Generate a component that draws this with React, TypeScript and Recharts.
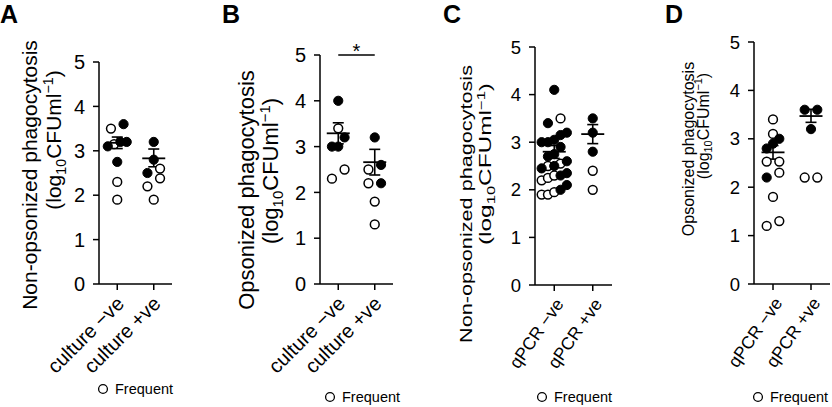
import React from 'react';
import { ScatterChart, Scatter, XAxis, YAxis, ErrorBar, ReferenceLine, Label } from 'recharts';

const FONT = '"Liberation Sans", Arial, Helvetica, sans-serif';

// ---------- categories & ticks ----------
const cultureCategories = ['culture \u2212ve', 'culture +ve'];
const qpcrCategories = ['qPCR \u2212ve', 'qPCR +ve'];
const yTicks = [0, 1, 2, 3, 4, 5];
const legendLabel = 'Frequent';

// ---------- Panel A: non-opsonized, culture ----------
const aNegFrequent = [3.5, 3.15, 2.3, 1.9];
const aNegOther = [3.6, 3.2, 3.2, 3.1, 2.75];
const aPosFrequent = [2.6, 2.38, 2.2, 1.9];
const aPosOther = [3.2, 2.8, 2.5];
const aMean = [3.18, 2.83];
const aSemLow = [3.05, 2.64];
const aSemHigh = [3.31, 3.04];

// ---------- Panel B: opsonized, culture ----------
const bNegFrequent = [3.4, 2.5, 2.3];
const bNegOther = [4.0, 3.2, 3.0, 3.0];
const bPosFrequent = [2.5, 2.2, 1.8, 1.3];
const bPosOther = [3.2, 2.6, 2.2];
const bMean = [3.29, 2.66];
const bSemLow = [3.06, 2.38];
const bSemHigh = [3.52, 2.94];

// ---------- Panel C: non-opsonized, qPCR ----------
const cNegFrequent = [3.5, 2.55, 2.5, 2.3, 2.25, 2.2, 1.95, 1.9, 1.9];
const cNegOther = [4.1, 3.4, 3.2, 3.15, 3.05, 3.0, 3.0, 2.9, 2.75, 2.7, 2.6, 2.5, 2.45, 2.35, 2.3, 2.1, 2.0];
const cPosFrequent = [2.4, 2.0];
const cPosOther = [3.5, 3.2, 2.8];
const cMean = [2.8, 3.17];
const cSemLow = [2.66, 2.97];
const cSemHigh = [2.93, 3.37];

// ---------- Panel D: opsonized, qPCR ----------
const dNegFrequent = [3.4, 3.1, 2.53, 2.53, 2.3, 1.8, 1.3, 1.2];
const dNegOther = [3.0, 2.9, 2.8, 2.2];
const dPosFrequent = [2.2, 2.2];
const dPosOther = [3.6, 3.6, 3.2];
const dMean = [2.72, 3.47];
const dSemLow = [2.58, 3.34];
const dSemHigh = [2.86, 3.61];

// ---------- helpers ----------
type Pt = { x: number; y: number };

// Prism-like scatter-dot layout: group close values in rows, spread each row around the category centre
function swarm(frequent: number[], other: number[], cat: number, pxPerX: number, pxPerY: number) {
  const all = [
    ...frequent.map((v) => ({ v, f: true })),
    ...other.map((v) => ({ v, f: false })),
  ].sort((a, b) => a.v - b.v || (a.f === b.f ? 0 : a.f ? -1 : 1));
  const binPx = 10.5;
  const slot = 6.3;
  const rows: { v: number; f: boolean }[][] = [];
  let cur: { v: number; f: boolean }[] = [];
  let start = 0;
  for (const p of all) {
    if (cur.length === 0) {
      cur = [p];
      start = p.v;
    } else if ((p.v - start) * pxPerY < binPx) {
      cur.push(p);
    } else {
      rows.push(cur);
      cur = [p];
      start = p.v;
    }
  }
  if (cur.length) rows.push(cur);
  const freq: Pt[] = [];
  const oth: Pt[] = [];
  rows.forEach((row) => {
    const n = row.length;
    const step = n === 2 ? slot * 2 : slot;
    row.forEach((p, i) => {
      const off = ((i - (n - 1) / 2) * step) / pxPerX;
      (p.f ? freq : oth).push({ x: cat + off, y: p.v });
    });
  });
  return { freq, oth };
}

const OpenDot = (p: any) => (
  <circle cx={p.cx} cy={p.cy} r={4.4} fill="#fff" stroke="#000" strokeWidth={1.5} />
);
const FilledDot = (p: any) => (
  <circle cx={p.cx} cy={p.cy} r={4.6} fill="#000" stroke="#000" strokeWidth={1} />
);
const MeanLine = (p: any) => (
  <line x1={p.cx - 11.5} x2={p.cx + 11.5} y1={p.cy} y2={p.cy} stroke="#000" strokeWidth={1.8} />
);

type TitleLine = { x: number; y: number; size: number; len?: number };

type PanelProps = {
  letter: string;
  left: number;
  width: number;
  axisX: number;
  plotRight: number;
  top: number;
  bottom: number;
  tickFont: number;
  xFont: number;
  xAngle: number;
  xdx: number;
  xdy: number;
  categories: string[];
  title: string;
  t1: TitleLine;
  t2: TitleLine;
  negF: number[];
  negO: number[];
  posF: number[];
  posO: number[];
  mean: number[];
  lo: number[];
  hi: number[];
  legendX: number;
  legendY: number;
  letterX: number;
  sig?: boolean;
};

const Panel = (P: PanelProps) => {
  const H = 407;
  const plotW = P.plotRight - P.axisX;
  const plotH = P.bottom - P.top;
  const pxPerX = plotW / 2;
  const pxPerY = plotH / 5;
  const neg = swarm(P.negF, P.negO, 1, pxPerX, pxPerY);
  const pos = swarm(P.posF, P.posO, 2, pxPerX, pxPerY);
  const freqData = [...neg.freq, ...pos.freq];
  const othData = [...neg.oth, ...pos.oth];
  const meanData = P.mean.map((m, i) => ({ x: i + 1, y: m, err: [m - P.lo[i], P.hi[i] - m] }));

  const XTick = (props: any) => {
    const { x, payload } = props;
    const label = P.categories[Math.round(payload.value) - 1];
    return (
      <g transform={`translate(${x + P.xdx},${P.bottom + P.xdy})`}>
        <text
          textAnchor="end"
          transform={`rotate(${-P.xAngle})`}
          fontSize={P.xFont}
          fontFamily={FONT}
          fill="#000"
        >
          {label}
        </text>
      </g>
    );
  };

  const L = P.left;
  const lenProps = (t: TitleLine) =>
    t.len ? { textLength: t.len, lengthAdjust: 'spacingAndGlyphs' as const } : {};
  const titleContent = () => (
    <g fontFamily={FONT} fill="#000">
      <text
        transform={`translate(${P.t1.x - L},${P.t1.y}) rotate(-90)`}
        textAnchor="middle"
        fontSize={P.t1.size}
        {...lenProps(P.t1)}
      >
        {P.title}
      </text>
      <text
        transform={`translate(${P.t2.x - L},${P.t2.y}) rotate(-90)`}
        textAnchor="middle"
        fontSize={P.t2.size}
        {...lenProps(P.t2)}
      >
        <tspan>(log</tspan>
        <tspan fontSize={P.t2.size * 0.68} dy={P.t2.size * 0.22}>10</tspan>
        <tspan dy={-P.t2.size * 0.22}>CFUml</tspan>
        <tspan fontSize={P.t2.size * 0.68} dy={-P.t2.size * 0.38}>{'\u22121'}</tspan>
        <tspan dy={P.t2.size * 0.38}>)</tspan>
      </text>
    </g>
  );

  return (
    <div style={{ position: 'absolute', left: P.left, top: 0, width: P.width, height: H }}>
      <ScatterChart
        width={P.width}
        height={H}
        margin={{ top: P.top, right: P.left + P.width - P.plotRight, bottom: 0, left: 0 }}
      >
        <XAxis
          type="number"
          dataKey="x"
          domain={[0.5, 2.5]}
          ticks={[1, 2]}
          interval={0}
          allowDataOverflow
          height={H - P.bottom}
          axisLine={{ stroke: '#000', strokeWidth: 1.5 }}
          tickLine={{ stroke: '#000', strokeWidth: 1.5 }}
          tickSize={6}
          tick={<XTick />}
        />
        <YAxis
          type="number"
          dataKey="y"
          domain={[0, 5]}
          ticks={yTicks}
          interval={0}
          allowDataOverflow
          width={P.axisX - P.left}
          axisLine={{ stroke: '#000', strokeWidth: 1.5 }}
          tickLine={{ stroke: '#000', strokeWidth: 1.5 }}
          tickSize={6}
          tickMargin={8}
          tick={{ fill: '#000', fontSize: P.tickFont, fontFamily: FONT }}
        >
          <Label content={titleContent} />
        </YAxis>
        <Scatter data={freqData} shape={OpenDot} isAnimationActive={false} />
        <Scatter data={othData} shape={FilledDot} isAnimationActive={false} />
        <Scatter data={meanData} shape={MeanLine} isAnimationActive={false}>
          <ErrorBar dataKey="err" direction="y" width={5.5} stroke="#000" strokeWidth={1.6} />
        </Scatter>
        {P.sig && (
          <ReferenceLine
            segment={[{ x: 1, y: 5 }, { x: 2, y: 5 }]}
            stroke="#000"
            strokeWidth={1.5}
            ifOverflow="visible"
            label={{
              content: (lp: any) => {
                const vb = lp.viewBox || {};
                return (
                  <text
                    x={(vb.x || 0) + (vb.width || 0) / 2}
                    y={(vb.y || 0) + 3}
                    textAnchor="middle"
                    fontSize={20}
                    fontFamily={FONT}
                    fill="#000"
                  >
                    *
                  </text>
                );
              },
            }}
          />
        )}
      </ScatterChart>
      <svg
        width={P.width}
        height={H}
        style={{ position: 'absolute', left: 0, top: 0, pointerEvents: 'none' }}
      >
        <text x={P.letterX - L} y={23} fontSize={25} fontWeight="bold" fontFamily={FONT} fill="#000">
          {P.letter}
        </text>
        <circle cx={P.legendX - L} cy={P.legendY - 5} r={4.4} fill="#fff" stroke="#000" strokeWidth={1.3} />
        <text x={P.legendX - L + 12} y={P.legendY} fontSize={14.5} fontFamily={FONT} fill="#000">
          {legendLabel}
        </text>
      </svg>
    </div>
  );
};

export default function App() {
  return (
    <div style={{ position: 'absolute', left: 0, top: 0, width: 832, height: 407, background: '#fff' }}>
      <Panel
        letter="A" letterX={0} left={0} width={208} axisX={99} plotRight={172} top={62} bottom={284}
        tickFont={20} xFont={20} xAngle={45} xdx={8} xdy={21}
        categories={cultureCategories} title="Non-opsonized phagocytosis"
        t1={{ x: 37, y: 175, size: 21 }} t2={{ x: 61, y: 140, size: 21 }}
        negF={aNegFrequent} negO={aNegOther} posF={aPosFrequent} posO={aPosOther}
        mean={aMean} lo={aSemLow} hi={aSemHigh} legendX={103} legendY={394}
      />
      <Panel
        letter="B" letterX={222} left={210} width={208} axisX={320} plotRight={393} top={55} bottom={284}
        tickFont={20} xFont={20} xAngle={45} xdx={8} xdy={21}
        categories={cultureCategories} title="Opsonized phagocytosis"
        t1={{ x: 254, y: 190, size: 22 }} t2={{ x: 278, y: 171, size: 22 }}
        negF={bNegFrequent} negO={bNegOther} posF={bPosFrequent} posO={bPosOther}
        mean={bMean} lo={bSemLow} hi={bSemHigh} legendX={330} legendY={402} sig
      />
      <Panel
        letter="C" letterX={443} left={420} width={208} axisX={535} plotRight={612} top={47} bottom={285}
        tickFont={18.5} xFont={17.5} xAngle={55} xdx={10} xdy={19}
        categories={qpcrCategories} title="Non-opsonized phagocytosis"
        t1={{ x: 472, y: 204, size: 17, len: 278 }} t2={{ x: 491, y: 164, size: 17, len: 162 }}
        negF={cNegFrequent} negO={cNegOther} posF={cPosFrequent} posO={cPosOther}
        mean={cMean} lo={cSemLow} hi={cSemHigh} legendX={542} legendY={402}
      />
      <Panel
        letter="D" letterX={665} left={630} width={202} axisX={754} plotRight={830} top={42} bottom={284}
        tickFont={18.5} xFont={17.5} xAngle={55} xdx={10} xdy={19}
        categories={qpcrCategories} title="Opsonized phagocytosis"
        t1={{ x: 693.5, y: 149, size: 16 }} t2={{ x: 708.5, y: 126, size: 16 }}
        negF={dNegFrequent} negO={dNegOther} posF={dPosFrequent} posO={dPosOther}
        mean={dMean} lo={dSemLow} hi={dSemHigh} legendX={758} legendY={402}
      />
    </div>
  );
}
